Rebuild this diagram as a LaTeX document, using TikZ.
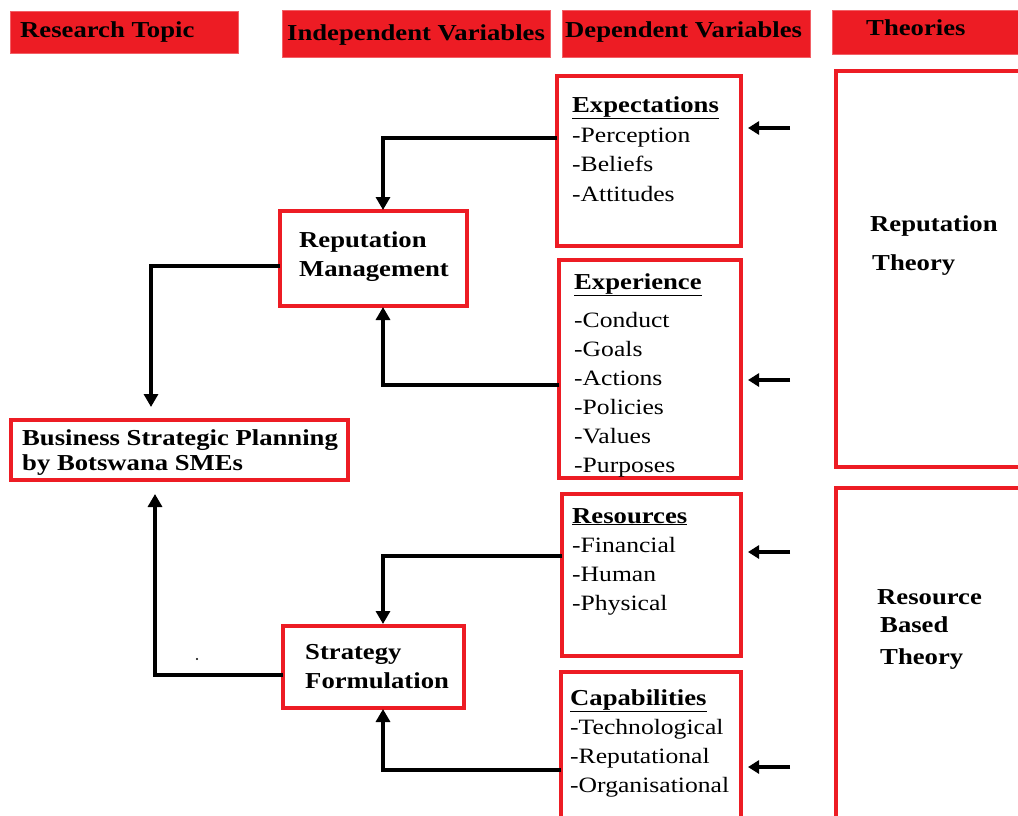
\documentclass[tikz,border=0pt]{standalone}
\usepackage{fontspec}
\setmainfont{Liberation Serif}[FakeStretch=1.17]
\usetikzlibrary{arrows.meta}
\definecolor{cred}{HTML}{ED1C24}
\tikzset{
  hdr/.style={fill=cred,draw=cred!70,line width=0.8pt},
  rbox/.style={draw=cred,line width=4pt},
  hdrtxt/.style={anchor=base west,inner sep=0pt,font=\bfseries\fontsize{22.8}{26}\selectfont},
  head/.style={anchor=base west,inner sep=0pt,font=\bfseries\fontsize{22.8}{28}\selectfont},
  item/.style={anchor=base west,inner sep=0pt,font=\fontsize{21.9}{29}\selectfont},
  conn/.style={line width=3.2pt,-{Triangle[length=13pt,width=14pt]}},
  short/.style={line width=3.6pt,-{Triangle[length=11pt,width=13pt]}},
}
\begin{document}
\begin{tikzpicture}[x=1pt,y=-1pt]
\useasboundingbox (0,0) rectangle (1018,816);
% header bars
\path[hdr] (10,11) rectangle (238,53);
\path[hdr] (282,10) rectangle (550,57);
\path[hdr] (562,10) rectangle (810,57);
\path[hdr] (832,10) rectangle (1030,54);
\node[hdrtxt] (hRT) at (20,38) {Research Topic};
\node[hdrtxt] (hIV) at (287,41) {Independent Variables};
\node[hdrtxt] (hDV) at (565,38) {Dependent Variables};
\node[hdrtxt] (hTh) at (866,36) {Theories};

% boxes
\draw[rbox] (557,76) rectangle (741,246);
\coordinate (expL) at (557,138);
\draw[rbox] (559,260) rectangle (741,478);
\coordinate (expeL) at (559,385);
\draw[rbox] (562,494) rectangle (741,656);
\coordinate (resL) at (562,556);
\draw[rbox] (561,672) rectangle (741,830);
\coordinate (capL) at (561,770);
\draw[rbox] (836,71) rectangle (1030,467);
\draw[rbox] (836,488) rectangle (1030,830);
\draw[rbox] (280,211) rectangle (467,306);
\draw[rbox] (11,420) rectangle (348,480);
\draw[rbox] (283,626) rectangle (464,708);

% texts in boxes
\node[head] (t1) at (572,112) {\underline{Expectations}};
\node[item] (l1a) at (572,142) {-Perception};
\node[item] (l1b) at (572,171) {-Beliefs};
\node[item] (l1c) at (572,201) {-Attitudes};

\node[head] (t2) at (574,289) {\underline{Experience}};
\node[item] (l2a) at (574,327) {-Conduct};
\node[item] (l2b) at (574,356) {-Goals};
\node[item] (l2c) at (574,385) {-Actions};
\node[item] (l2d) at (574,414) {-Policies};
\node[item] (l2e) at (574,443) {-Values};
\node[item] (l2f) at (574,472) {-Purposes};

\node[head] (t3) at (572,523) {\underline{Resources}};
\node[item] (l3a) at (572,552) {-Financial};
\node[item] (l3b) at (572,581) {-Human};
\node[item] (l3c) at (572,610) {-Physical};

\node[head] (t4) at (570,705) {\underline{Capabilities}};
\node[item] (l4a) at (570,734) {-Technological};
\node[item] (l4b) at (570,763) {-Reputational};
\node[item] (l4c) at (570,792) {-Organisational};

\node[head] (rm1) at (299,247) {Reputation};
\node[head] (rm2) at (299,276) {Management};
\node[head] (bs1) at (22,445) {Business Strategic Planning};
\node[head] (bs2) at (22,470) {by Botswana SMEs};
\node[head] (sf1) at (305,659) {Strategy};
\node[head] (sf2) at (305,688) {Formulation};
\node[head] (rt1) at (870,231) {Reputation};
\node[head] (rt2) at (872,270) {Theory};
\node[head] (rb1) at (877,604) {Resource};
\node[head] (rb2) at (880,632) {Based};
\node[head] (rb3) at (880,664) {Theory};

% coordinates for connectors
\coordinate (rmT) at (383,210);
\coordinate (rmB) at (383,307);
\coordinate (rmL) at (280,266);
\coordinate (bspT) at (151,407);
\coordinate (bspB) at (155,494);
\coordinate (sfL) at (283,675);
\coordinate (sfT) at (383,624);
\coordinate (sfB) at (383,709);

\draw[conn] (expL) -| (rmT);
\draw[conn] (expeL) -| (rmB);
\draw[conn] (rmL) -| (bspT);
\draw[conn] (sfL) -| (bspB);
\draw[conn] (resL) -| (sfT);
\draw[conn] (capL) -| (sfB);

% short arrows from theories
\coordinate (s1a) at (790,128); \coordinate (s1b) at (748,128);
\coordinate (s2a) at (790,380); \coordinate (s2b) at (748,380);
\coordinate (s3a) at (790,552); \coordinate (s3b) at (748,552);
\coordinate (s4a) at (790,767); \coordinate (s4b) at (748,767);
\draw[short] (s1a) -- (s1b);
\draw[short] (s2a) -- (s2b);
\draw[short] (s3a) -- (s3b);
\draw[short] (s4a) -- (s4b);

\fill (197,659) circle (1.2pt);
\end{tikzpicture}
\end{document}
